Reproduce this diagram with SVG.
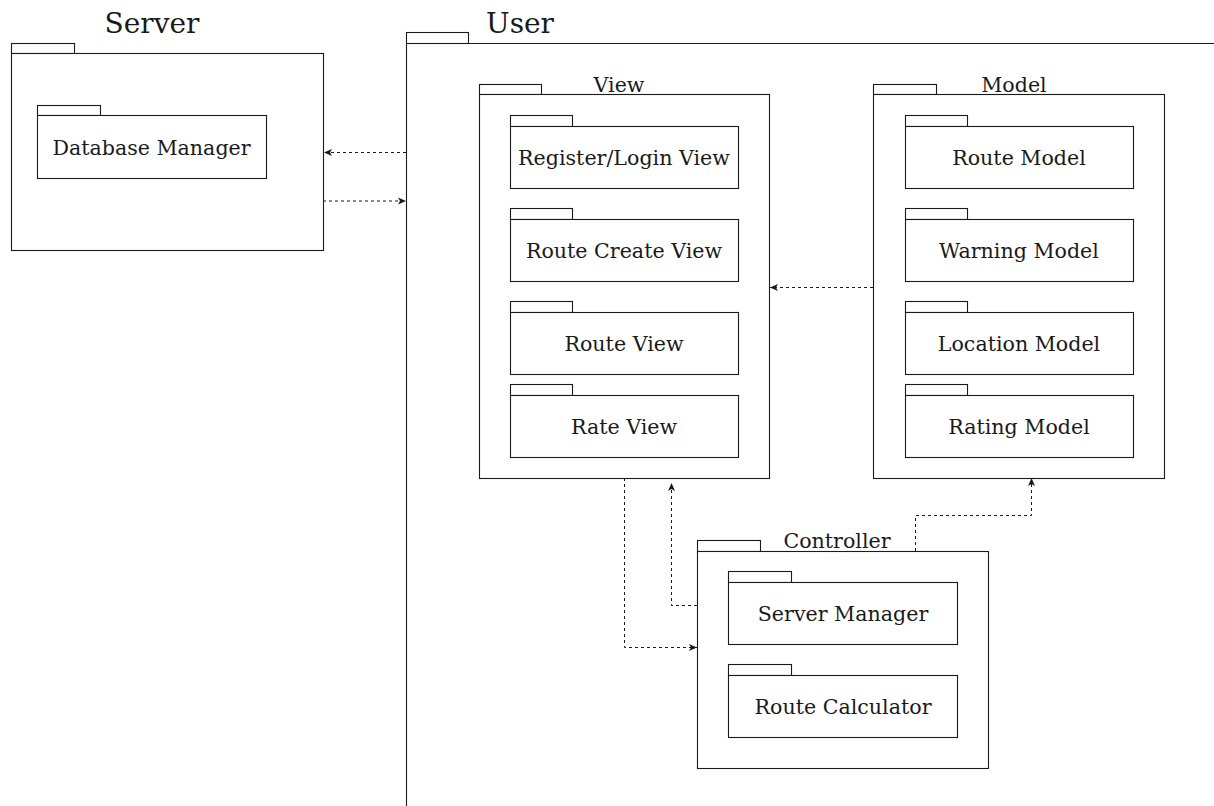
<svg xmlns="http://www.w3.org/2000/svg" width="1214" height="806" viewBox="0 0 1214 806">
<style>
.pk{fill:#fff;stroke:#1a1a1a;stroke-width:1.1}
.ln{fill:none;stroke:#1a1a1a;stroke-width:1.1}
.t{font-family:"DejaVu Serif",serif;font-size:20.6px;fill:#1a1a1a;text-anchor:middle}
.tb{font-family:"DejaVu Serif",serif;font-size:28px;fill:#1a1a1a;text-anchor:middle}
.c{fill:none;stroke:#1a1a1a;stroke-width:1;stroke-dasharray:3 3;marker-end:url(#ah)}
</style>
<defs>
<marker id="ah" markerUnits="userSpaceOnUse" markerWidth="10" markerHeight="10" viewBox="0 0 10 10" refX="9" refY="5" orient="auto">
<path d="M1,1.5 L9,5 L1,8.5 L3,5 Z" fill="#1a1a1a"/>
</marker>
</defs>
<rect width="1214" height="806" fill="#fff"/>
<g id="server">
<rect class="pk" x="11.5" y="43.5" width="63" height="10"/>
<rect class="pk" x="11.5" y="53.5" width="312" height="197"/>
<text class="tb" x="152" y="33">Server</text>
</g>
<g id="database-manager">
<rect class="pk" x="37.5" y="105.5" width="63" height="10"/>
<rect class="pk" x="37.5" y="115.5" width="229" height="63"/>
<text class="t" x="151.5" y="155">Database Manager</text>
</g>
<g id="user">
<rect class="pk" x="406.5" y="32.5" width="62" height="11"/>
<path class="ln" d="M406.5 806 V43.5 H1214"/>
<text class="tb" x="520" y="33">User</text>
</g>
<g id="view">
<rect class="pk" x="479.5" y="84.5" width="62" height="10"/>
<rect class="pk" x="479.5" y="94.5" width="290" height="384"/>
<text class="t" x="619" y="92">View</text>
</g>
<g id="register-login-view">
<rect class="pk" x="510.5" y="115.5" width="62" height="11"/>
<rect class="pk" x="510.5" y="126.5" width="228" height="62"/>
<text class="t" x="624" y="165">Register/Login View</text>
</g>
<g id="route-create-view">
<rect class="pk" x="510.5" y="208.5" width="62" height="11"/>
<rect class="pk" x="510.5" y="219.5" width="228" height="62"/>
<text class="t" x="624" y="258">Route Create View</text>
</g>
<g id="route-view">
<rect class="pk" x="510.5" y="301.5" width="62" height="11"/>
<rect class="pk" x="510.5" y="312.5" width="228" height="62"/>
<text class="t" x="624" y="351">Route View</text>
</g>
<g id="rate-view">
<rect class="pk" x="510.5" y="384.5" width="62" height="11"/>
<rect class="pk" x="510.5" y="395.5" width="228" height="62"/>
<text class="t" x="624" y="434">Rate View</text>
</g>
<g id="model">
<rect class="pk" x="873.5" y="84.5" width="63" height="10"/>
<rect class="pk" x="873.5" y="94.5" width="291" height="384"/>
<text class="t" x="1014" y="92">Model</text>
</g>
<g id="route-model">
<rect class="pk" x="905.5" y="115.5" width="62" height="11"/>
<rect class="pk" x="905.5" y="126.5" width="228" height="62"/>
<text class="t" x="1019" y="165">Route Model</text>
</g>
<g id="warning-model">
<rect class="pk" x="905.5" y="208.5" width="62" height="11"/>
<rect class="pk" x="905.5" y="219.5" width="228" height="62"/>
<text class="t" x="1019" y="258">Warning Model</text>
</g>
<g id="location-model">
<rect class="pk" x="905.5" y="301.5" width="62" height="11"/>
<rect class="pk" x="905.5" y="312.5" width="228" height="62"/>
<text class="t" x="1019" y="351">Location Model</text>
</g>
<g id="rating-model">
<rect class="pk" x="905.5" y="384.5" width="62" height="11"/>
<rect class="pk" x="905.5" y="395.5" width="228" height="62"/>
<text class="t" x="1019" y="434">Rating Model</text>
</g>
<g id="controller">
<rect class="pk" x="697.5" y="540.5" width="63" height="11"/>
<rect class="pk" x="697.5" y="551.5" width="291" height="217"/>
<text class="t" x="837" y="548">Controller</text>
</g>
<g id="server-manager">
<rect class="pk" x="728.5" y="571.5" width="63" height="11"/>
<rect class="pk" x="728.5" y="582.5" width="229" height="62"/>
<text class="t" x="843" y="621">Server Manager</text>
</g>
<g id="route-calculator">
<rect class="pk" x="728.5" y="664.5" width="63" height="11"/>
<rect class="pk" x="728.5" y="675.5" width="229" height="62"/>
<text class="t" x="843" y="714">Route Calculator</text>
</g>
<g id="connectors">
<path class="c" d="M406 152.5 H324"/>
<path class="c" d="M323 201 H406"/>
<path class="c" d="M873 287.5 H770"/>
<path class="c" d="M624.5 478 V647.5 H697"/>
<path class="c" d="M697 605.5 H671.5 V483"/>
<path class="c" d="M915.5 551 V515.5 H1031.5 V478"/>
</g>
</svg>
